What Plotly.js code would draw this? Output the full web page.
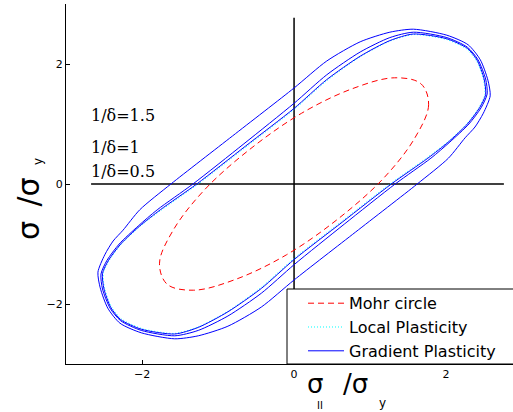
<!DOCTYPE html>
<html>
<head>
<meta charset="utf-8">
<script src="https://cdn.plot.ly/plotly-3.0.1.min.js"></script>
<style>html,body{margin:0;padding:0;background:#fff;}#chart{width:513px;height:412px;}</style>
</head>
<body>
<div id="chart"></div>
<script>
// Mohr circle (red dashed)
var mohrX = [1.67, 1.77, 1.59, 1.18, 0.58, -0.10, -0.77, -1.32, -1.67, -1.77, -1.59, -1.18, -0.58, 0.10, 0.77, 1.32, 1.67];
var mohrY = [1.67, 1.32, 0.77, 0.10, -0.58, -1.18, -1.59, -1.77, -1.67, -1.32, -0.77, -0.10, 0.58, 1.18, 1.59, 1.77, 1.67];

// Local plasticity (cyan dotted, nearly hidden)
var localX = [-1.26, -0.63, 0, 0.43, 0.87, 1.26, 1.57, 2.0, 2.27, 2.4, 2.49, 2.51, 2.43, 2.27, 2.02, 1.74, 1.26, 0.63, 0, -0.43, -0.87, -1.26, -1.57, -2.0, -2.27, -2.4, -2.49, -2.51, -2.43, -2.27, -2.02, -1.74, -1.26];
var localY = [0, 0.62, 1.24, 1.72, 2.12, 2.38, 2.49, 2.41, 2.25, 2.05, 1.75, 1.49, 1.27, 1.0, 0.7, 0.43, 0, -0.62, -1.24, -1.72, -2.12, -2.38, -2.49, -2.41, -2.25, -2.05, -1.75, -1.49, -1.27, -1.0, -0.7, -0.43, 0];

// Gradient plasticity curves (blue)
var gp1X = [-1.28, -0.64, 0, 0.43, 0.87, 1.26, 1.57, 2.01, 2.28, 2.41, 2.5, 2.52, 2.44, 2.28, 2.03, 1.76, 1.28, 0.64, 0, -0.43, -0.87, -1.26, -1.57, -2.01, -2.28, -2.41, -2.5, -2.52, -2.44, -2.28, -2.03, -1.76, -1.28];
var gp1Y = [0, 0.63, 1.26, 1.74, 2.13, 2.39, 2.5, 2.42, 2.26, 2.06, 1.75, 1.49, 1.27, 1.0, 0.7, 0.43, 0, -0.63, -1.26, -1.74, -2.13, -2.39, -2.5, -2.42, -2.26, -2.06, -1.75, -1.49, -1.27, -1.0, -0.7, -0.43, 0];

var gp2X = [-1.33, -0.66, 0, 0.43, 0.87, 1.26, 1.57, 2.01, 2.28, 2.42, 2.52, 2.54, 2.46, 2.3, 2.05, 1.8, 1.33, 0.66, 0, -0.43, -0.87, -1.26, -1.57, -2.01, -2.28, -2.42, -2.52, -2.54, -2.46, -2.3, -2.05, -1.8, -1.33];
var gp2Y = [0, 0.67, 1.345, 1.82, 2.2, 2.44, 2.53, 2.44, 2.28, 2.07, 1.75, 1.5, 1.27, 1.0, 0.7, 0.43, 0, -0.67, -1.345, -1.82, -2.2, -2.44, -2.53, -2.44, -2.28, -2.07, -1.75, -1.5, -1.27, -1.0, -0.7, -0.43, 0];

var gp3X = [-1.62, -0.81, 0, 0.43, 0.87, 1.26, 1.57, 2.01, 2.29, 2.45, 2.55, 2.58, 2.49, 2.38, 2.25, 2.03, 1.62, 0.81, 0, -0.43, -0.87, -1.26, -1.57, -2.01, -2.29, -2.45, -2.55, -2.58, -2.49, -2.38, -2.25, -2.03, -1.62];
var gp3Y = [0, 0.8, 1.6, 2.05, 2.37, 2.53, 2.58, 2.48, 2.32, 2.07, 1.73, 1.47, 1.18, 0.95, 0.77, 0.43, 0, -0.8, -1.6, -2.05, -2.37, -2.53, -2.58, -2.48, -2.32, -2.07, -1.73, -1.47, -1.18, -0.95, -0.77, -0.43, 0];

// Reference axes lines drawn in data space
var hLineX = [-2.67, 2.76];
var hLineY = [0, 0];
var vLineX = [0, 0];
var vLineY = [-3, 2.77];

var tickVals = [-2, 0, 2];
var deltaLabels = ['1/δ=1.5', '1/δ=1', '1/δ=0.5'];
var legendNames = ['Mohr circle', 'Local Plasticity', 'Gradient Plasticity'];

var blue = '#0000ff';
var sm = 0.7;

var traces = [
  {x: hLineX, y: hLineY, mode: 'lines', line: {color: '#000000', width: 1.3}, showlegend: false, hoverinfo: 'skip'},
  {x: vLineX, y: vLineY, mode: 'lines', line: {color: '#000000', width: 1.5}, showlegend: false, hoverinfo: 'skip'},
  {x: mohrX, y: mohrY, mode: 'lines', name: legendNames[0], line: {color: '#ff0000', width: 1, dash: '6px,4px', shape: 'spline', smoothing: 1}},
  {x: localX, y: localY, mode: 'lines', name: legendNames[1], line: {color: '#00ffff', width: 1, dash: '1px,2px', shape: 'spline', smoothing: sm}},
  {x: gp1X, y: gp1Y, mode: 'lines', name: legendNames[2], legendgroup: 'gp', line: {color: blue, width: 1, shape: 'spline', smoothing: sm}},
  {x: gp2X, y: gp2Y, mode: 'lines', name: legendNames[2], legendgroup: 'gp', showlegend: false, line: {color: blue, width: 1, shape: 'spline', smoothing: sm}},
  {x: gp3X, y: gp3Y, mode: 'lines', name: legendNames[2], legendgroup: 'gp', showlegend: false, line: {color: blue, width: 1, shape: 'spline', smoothing: sm}}
];

var L = 66, T = 4, W = 447, H = 360;
function px(xp) { return (xp - L) / W; }
function py(yp) { return (T + H - yp) / H; }

var sansF = 'DejaVu Sans, Arial, sans-serif';
var serifF = 'DejaVu Serif, Times New Roman, serif';

var annotations = [
  {text: deltaLabels[0], x: px(89), y: py(115.2), xanchor: 'left', yanchor: 'middle'},
  {text: deltaLabels[1], x: px(89), y: py(147.2), xanchor: 'left', yanchor: 'middle'},
  {text: deltaLabels[2], x: px(89), y: py(171.8), xanchor: 'left', yanchor: 'middle'}
].map(function (a) {
  a.xref = 'paper'; a.yref = 'paper'; a.showarrow = false;
  a.font = {family: serifF, size: 16, color: '#000'};
  return a;
});

var titleParts = [
  // x title
  {text: 'σ', x: px(315), y: py(384), size: 26, angle: 0},
  {text: 'II', x: px(320), y: py(405), size: 10, angle: 0},
  {text: '/σ', x: px(355), y: py(384), size: 26, angle: 0},
  {text: 'y', x: px(382), y: py(403), size: 12, angle: 0},
  // y title
  {text: 'σ', x: px(28), y: py(231), size: 30, angle: -90},
  {text: '/σ', x: px(28), y: py(192.5), size: 30, angle: -90},
  {text: 'y', x: px(37.5), y: py(161.5), size: 12, angle: -90}
];
titleParts.forEach(function (p) {
  annotations.push({
    text: p.text, x: p.x, y: p.y, xref: 'paper', yref: 'paper',
    xanchor: 'center', yanchor: 'middle', showarrow: false, textangle: p.angle,
    font: {family: sansF, size: p.size, color: '#000'}
  });
});

var layout = {
  width: 513, height: 412,
  margin: {l: L, r: 0, t: T, b: 412 - T - H, pad: 0},
  paper_bgcolor: '#fff', plot_bgcolor: '#fff',
  font: {family: sansF, color: '#000'},
  xaxis: {
    range: [-3, 2.88], tickvals: tickVals, ticks: 'inside', ticklen: 4, tickwidth: 1, tickcolor: '#000',
    showline: true, linecolor: '#000', linewidth: 1, showgrid: false, zeroline: false,
    tickfont: {family: sansF, size: 11, color: '#000'}
  },
  yaxis: {
    range: [-3, 3], tickvals: tickVals, ticks: 'inside', ticklen: 4, tickwidth: 1, tickcolor: '#000',
    showline: true, linecolor: '#000', linewidth: 1, showgrid: false, zeroline: false,
    tickfont: {family: sansF, size: 11, color: '#000'}
  },
  showlegend: true,
  legend: {
    x: px(303), y: py(286.3), xanchor: 'left', yanchor: 'top',
    bgcolor: 'rgba(0,0,0,0)', borderwidth: 0, itemwidth: 36,
    font: {family: sansF, size: 16, color: '#000'}, tracegroupgap: 0
  },
  shapes: [
    {type: 'rect', xref: 'paper', yref: 'paper', x0: px(287), x1: 1.2, y0: 0, y1: py(289),
     line: {color: '#000', width: 1}, fillcolor: '#fff', layer: 'above'}
  ],
  annotations: annotations
};

Plotly.newPlot('chart', traces, layout, {displayModeBar: false, staticPlot: true});
</script>
</body>
</html>
